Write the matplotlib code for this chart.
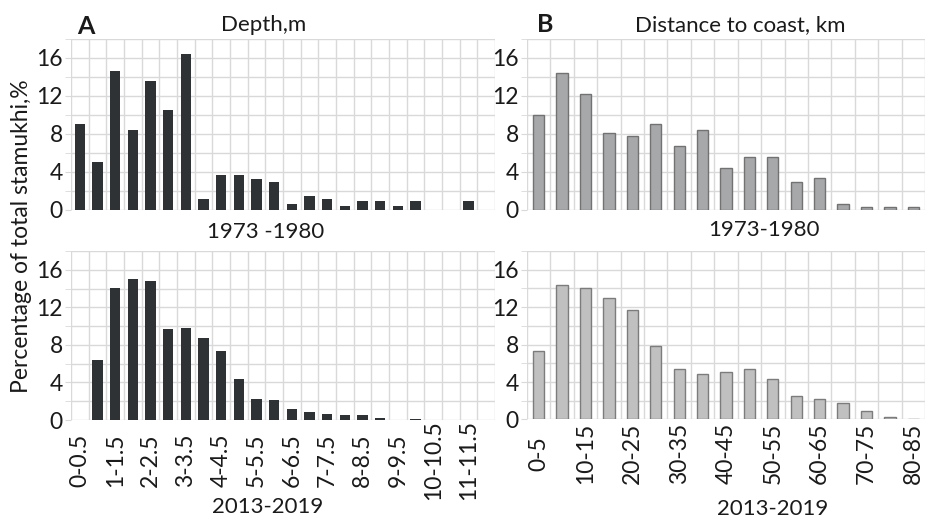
import numpy as np
import matplotlib
matplotlib.use("Agg")
import matplotlib.pyplot as plt

plt.rcParams['font.family'] = ['Lato', 'DejaVu Sans']

# --- data ---
depth_bins = ["0-0.5", "0.5-1", "1-1.5", "1.5-2", "2-2.5", "2.5-3", "3-3.5", "3.5-4",
              "4-4.5", "4.5-5", "5-5.5", "5.5-6", "6-6.5", "6.5-7", "7-7.5", "7.5-8",
              "8-8.5", "8.5-9", "9-9.5", "9.5-10", "10-10.5", "10.5-11", "11-11.5", "11.5-12"]
depth_1973 = [9.1, 5.1, 14.6, 8.4, 13.6, 10.5, 16.4, 1.2, 3.7, 3.7, 3.3, 2.9,
              0.6, 1.5, 1.2, 0.4, 0.9, 0.9, 0.4, 0.9, 0, 0, 0.9, 0]
depth_2013 = [0, 6.4, 14.1, 15.0, 14.8, 9.7, 9.8, 8.7, 7.3, 4.4, 2.2, 2.1,
              1.2, 0.85, 0.6, 0.5, 0.5, 0.2, 0, 0.12, 0, 0, 0, 0]

dist_bins = ["0-5", "5-10", "10-15", "15-20", "20-25", "25-30", "30-35", "35-40", "40-45",
             "45-50", "50-55", "55-60", "60-65", "65-70", "70-75", "75-80", "80-85"]
dist_1973 = [9.95, 14.4, 12.2, 8.1, 7.75, 9.0, 6.7, 8.45, 4.4, 5.6, 5.6, 2.95,
             3.35, 0.65, 0.3, 0.35, 0.35]
dist_2013 = [7.3, 14.4, 14.1, 13.0, 11.7, 7.9, 5.4, 4.85, 5.1, 5.4, 4.35, 2.5,
             2.2, 1.75, 0.9, 0.25, 0]

GRID = "#d9d9d9"
TXT = "#1a1a1a"
FS = 16
TICK_FS = 16.5


def style_panel(ax, labels, show_labels, pad):
    n = len(labels)
    ax.set_xlim(-0.5, n - 0.5)
    ax.set_ylim(0, 18)
    for s in ax.spines.values():
        s.set_visible(False)
    ax.set_yticks([0, 4, 8, 12, 16])
    ax.set_yticks([2, 6, 10, 14, 18], minor=True)
    ax.set_xticks(np.arange(-0.5, n, 1.0), minor=True)
    ax.set_xticks(np.arange(0, n, 2))
    ax.grid(which='major', axis='y', color=GRID, lw=1)
    ax.grid(which='minor', axis='both', color=GRID, lw=1)
    ax.set_axisbelow(True)
    ax.tick_params(axis='y', which='both', length=4, color=GRID, labelsize=TICK_FS,
                   labelcolor=TXT, pad=2)
    ax.tick_params(axis='x', which='both', length=0)
    if not show_labels:
        ax.set_xticklabels([])
    else:
        ax.set_xticklabels(labels[::2], rotation=90, fontsize=TICK_FS, color=TXT)
        for lab in ax.get_xticklabels():
            lab.set_va('center')
        ax.tick_params(axis='x', which='major', pad=pad)


fig = plt.figure(figsize=(9.39, 5.2), dpi=100)

axA1 = fig.add_axes([0.0756, 0.5962, 0.4516, 0.3288])
axA2 = fig.add_axes([0.0756, 0.1923, 0.4516, 0.3250])
axB1 = fig.add_axes([0.5612, 0.5962, 0.4239, 0.3288])
axB2 = fig.add_axes([0.5612, 0.1933, 0.4239, 0.3240])

xa = np.arange(len(depth_bins))
xb = np.arange(len(dist_bins))

axA1.bar(xa, depth_1973, width=0.6, color="#2e3235")
axA2.bar(xa, depth_2013, width=0.6, color="#2e3235")
axB1.bar(xb, dist_1973, width=0.48, color="#a6a8a9", edgecolor="#727272", linewidth=1)
axB2.bar(xb, dist_2013, width=0.48, color="#c0c0c0", edgecolor="#7c7c7c", linewidth=1)

style_panel(axA1, depth_bins, False, 0)
style_panel(axA2, depth_bins, True, 29)
style_panel(axB1, dist_bins, False, 0)
style_panel(axB2, dist_bins, True, 24.5)

# titles and period labels
fig.text(86 / 939, 1 - 26 / 520, "A", fontsize=18, fontweight='bold', ha='center', va='center', color=TXT)
fig.text(264 / 939, 1 - 25 / 520, "Depth,m", fontsize=FS, ha='center', va='center', color=TXT)
fig.text(545 / 939, 1 - 25 / 520, "B", fontsize=18, fontweight='bold', ha='center', va='center', color=TXT)
fig.text(740 / 939, 1 - 25 / 520, "Distance to coast, km", fontsize=FS, ha='center', va='center', color=TXT)

fig.text(266 / 939, 1 - 232 / 520, "1973 -1980", fontsize=FS, ha='center', va='center', color=TXT)
fig.text(764 / 939, 1 - 230 / 520, "1973-1980", fontsize=FS, ha='center', va='center', color=TXT)
fig.text(268 / 939, 1 - 507 / 520, "2013-2019", fontsize=FS, ha='center', va='center', color=TXT)
fig.text(773 / 939, 1 - 509 / 520, "2013-2019", fontsize=FS, ha='center', va='center', color=TXT)

fig.text(22 / 939, 1 - 236 / 520, "Percentage of total stamukhi,%", fontsize=16.5,
         rotation=90, ha='center', va='center', color=TXT)

fig.savefig("out.png", dpi=100, facecolor="white")
